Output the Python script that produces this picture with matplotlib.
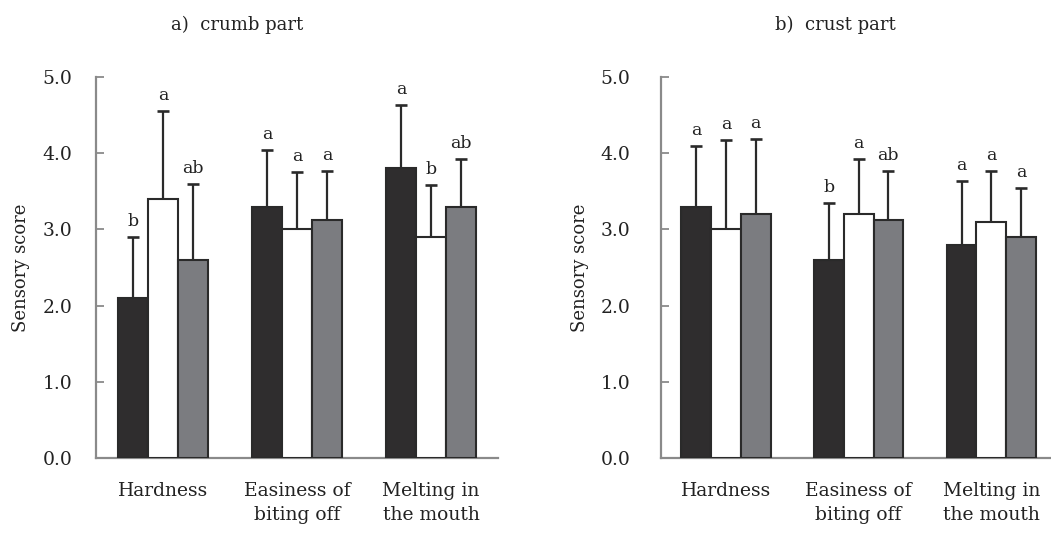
import matplotlib
matplotlib.use("Agg")
import matplotlib.pyplot as plt
import numpy as np

plt.rcParams['font.family'] = ['DejaVu Serif']

categories = ["Hardness", "Easiness of\nbiting off", "Melting in\nthe mouth"]
series_colors = ["#2f2d2e", "#ffffff", "#7b7c80"]

# crumb part: means, upper error extents, significance letters
crumb_mean = [[2.1, 3.3, 3.8], [3.4, 3.0, 2.9], [2.6, 3.12, 3.3]]
crumb_top = [[2.9, 4.04, 4.63], [4.56, 3.75, 3.58], [3.6, 3.77, 3.93]]
crumb_letters = [["b", "a", "a"], ["a", "a", "b"], ["ab", "a", "ab"]]

# crust part
crust_mean = [[3.3, 2.6, 2.8], [3.0, 3.2, 3.1], [3.2, 3.12, 2.9]]
crust_top = [[4.1, 3.35, 3.63], [4.17, 3.93, 3.77], [4.19, 3.77, 3.54]]
crust_letters = [["a", "b", "a"], ["a", "a", "a"], ["a", "ab", "a"]]

yticks = [0.0, 1.0, 2.0, 3.0, 4.0, 5.0]

fig = plt.figure(figsize=(10.51, 5.37), dpi=100)
W, H = 1051, 537


def panel(rect, means, tops, letters, xlim, ypad, ylabelpad):
    ax = fig.add_axes(rect)
    x = np.arange(len(categories))
    width = 0.224
    for i, (m, t, lab) in enumerate(zip(means, tops, letters)):
        xs = x + (i - 1) * width
        ax.bar(xs, m, width, color=series_colors[i], edgecolor="#2a2a2a",
               linewidth=1.5, zorder=3)
        err = np.array(t) - np.array(m)
        ax.errorbar(xs, m, yerr=[np.zeros_like(err), err], fmt="none",
                    ecolor="#2a2a2a", elinewidth=1.6, capsize=4.5,
                    capthick=1.9, zorder=2)
        for xi, ti, li in zip(xs, t, lab):
            ax.annotate(li, (xi, ti), xytext=(0, 5), textcoords="offset points",
                        ha="center", va="bottom", fontsize=12.5, color="#222222")
    ax.set_ylim(0, 5.0)
    ax.set_xlim(*xlim)
    ax.set_yticks(yticks)
    ax.set_yticklabels([f"{v:.1f}" for v in yticks], fontsize=13.5, color="#222222")
    ax.set_xticks(x)
    ax.set_xticklabels(categories, fontsize=13.5, color="#222222", linespacing=1.45)
    ax.tick_params(axis="x", length=0, pad=17)
    ax.tick_params(axis="y", direction="in", length=6, width=1.3,
                   color="#8a8a8a", pad=ypad)
    for s in ("top", "right"):
        ax.spines[s].set_visible(False)
    for s in ("left", "bottom"):
        ax.spines[s].set_color("#8a8a8a")
        ax.spines[s].set_linewidth(1.6)
    ax.set_ylabel("Sensory score", fontsize=13, color="#222222", labelpad=ylabelpad)
    return ax


bottom = 1 - 458 / H
height = (458 - 77) / H
panel([96 / W, bottom, (498 - 96) / W, height], crumb_mean, crumb_top,
      crumb_letters, (-0.5, 2.5), 17, 9)
panel([661 / W, bottom, (1051 - 661) / W, height], crust_mean, crust_top,
      crust_letters, (-0.49, 2.45), 22, 8)

fig.text(237 / W, 1 - 25 / H, "a)  crumb part", ha="center", va="center",
         fontsize=13, color="#222222")
fig.text(835 / W, 1 - 25 / H, "b)  crust part", ha="center", va="center",
         fontsize=13, color="#222222")

fig.savefig("out.png", dpi=100)
